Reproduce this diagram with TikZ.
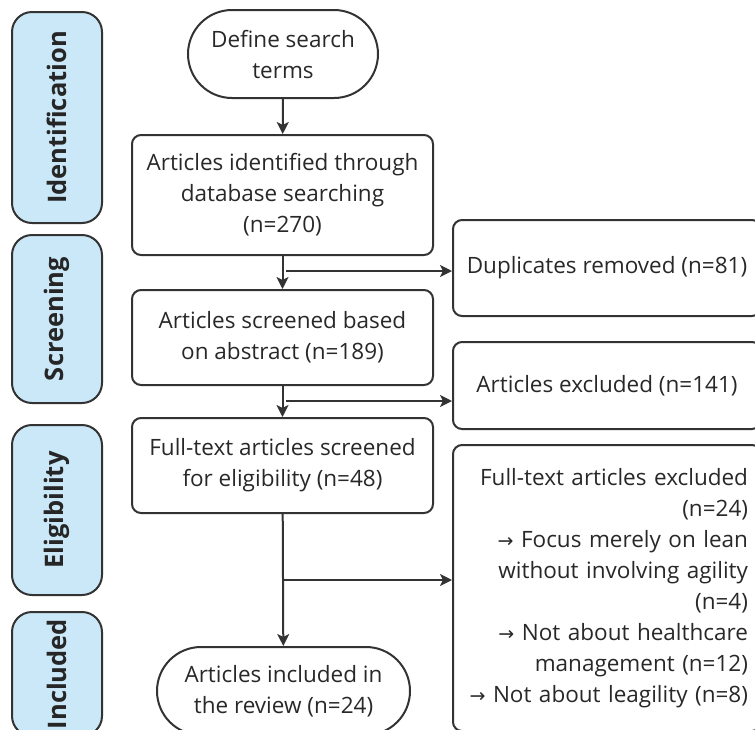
\documentclass[tikz,border=0pt]{standalone}
\usepackage{fontspec}
\setmainfont{Open Sans}
\newfontfamily\arrowfont{DejaVu Sans}
\usepackage{tikz}
\usetikzlibrary{arrows.meta,positioning}

\definecolor{linegray}{RGB}{51,51,51}
\definecolor{textgray}{RGB}{40,40,40}
\definecolor{phaseblue}{RGB}{203,232,248}

\newcommand{\ra}{{\arrowfont\fontsize{19}{31}\selectfont\symbol{"2192}}}

\tikzset{
  stepbox/.style={draw=linegray, line width=2pt, rounded corners=9pt, align=center,
    text=textgray, font=\fontsize{22.5}{31}\selectfont, inner sep=4pt},
  terminal/.style={stepbox, rounded corners=44pt},
  phase/.style={draw=linegray, line width=2pt, fill=phaseblue, rounded corners=20pt,
    rotate=90, minimum height=90pt, font=\bfseries\fontsize{25.5}{30}\selectfont, text=black!85},
  flow/.style={draw=linegray, line width=2pt, -{Stealth[length=12pt,width=12pt,inset=3pt]}}
}

\begin{document}
\begin{tikzpicture}[x=1pt,y=-1pt]
    \useasboundingbox (0,0) rectangle (755,729);
    \clip (0,0) rectangle (755,729);

    % Phase labels
    \node[phase, minimum width=211pt] (ident) at (57,117.5) {Identification};
    \node[phase, minimum width=168pt] (screen) at (57,319) {Screening};
    \node[phase, minimum width=170pt] (elig) at (57,510) {Eligibility};
    \node[phase, minimum width=124pt] (incl) at (57,674) {Included};

    % Main column
    \node[terminal, minimum width=190pt, minimum height=88pt] (define) at (283,54)
        {Define search\\terms};
    \node[stepbox, minimum width=301pt, minimum height=120pt] (identified) at (282.5,195)
        {Articles identified through\\database searching\\(n=270)};
    \node[stepbox, minimum width=301pt, minimum height=95pt] (screened) at (282.5,337.5)
        {Articles screened based\\on abstract (n=189)};
    \node[stepbox, minimum width=301pt, minimum height=95pt] (fulltext) at (282.5,465.5)
        {Full-text articles screened\\for eligibility (n=48)};
    \node[terminal, minimum width=253pt, minimum height=88pt] (included) at (283.5,691)
        {Articles included in\\the review (n=24)};

    % Excluded records
    \node[stepbox, minimum width=308pt, minimum height=96pt] (dup) at (607,268)
        {Duplicates removed (n=81)};
    \node[stepbox, minimum width=308pt, minimum height=87pt] (excl) at (607,385.5)
        {Articles excluded (n=141)};
    \node[stepbox, minimum width=308pt, minimum height=286pt, align=right,
        text width=282pt] (ftexcl) at (607,588)
        {Full-text articles excluded\\(n=24)\\\ra{} Focus merely on lean\\without involving agility\\(n=4)\\\ra{} Not about healthcare\\management (n=12)\\\ra{} Not about leagility (n=8)};

    % Flow
    \coordinate (b1) at (283,271);
    \coordinate (b2) at (283,401);
    \coordinate (b3) at (283,580);
    \draw[flow] (define) -- (identified);
    \draw[flow] (identified) -- (screened);
    \draw[flow] (screened) -- (fulltext);
    \draw[flow] (fulltext) -- (included);
    \draw[flow] ([xshift=3pt]b1) -- (b1 -| dup.west);
    \draw[flow] ([xshift=3pt]b2) -- (b2 -| excl.west);
    \draw[flow] (b3) -- (b3 -| ftexcl.west);
\end{tikzpicture}
\end{document}
